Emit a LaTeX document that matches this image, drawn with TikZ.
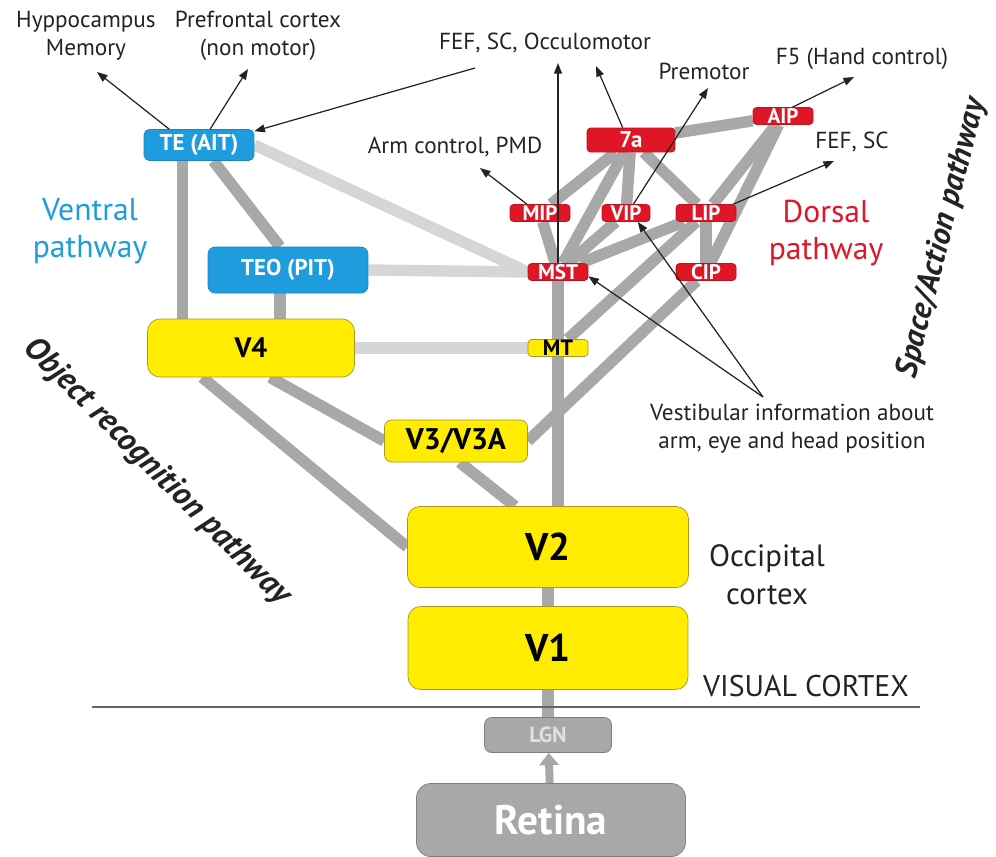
\documentclass[tikz,border=0pt]{standalone}
\usepackage{fontspec}
\setmainfont{PT Sans}
\usetikzlibrary{arrows.meta, backgrounds}

\definecolor{ventblue}{RGB}{30,156,222}
\definecolor{dorsred}{RGB}{222,22,38}
\definecolor{cortyel}{RGB}{255,236,0}
\definecolor{cortedge}{RGB}{168,150,40}
\definecolor{pathgray}{RGB}{168,168,168}
\definecolor{pathlight}{RGB}{214,214,214}
\definecolor{inkgray}{RGB}{35,35,35}

\begin{document}
\begin{tikzpicture}[
    x=0.02cm, y=-0.02cm,
    vbox/.style={rectangle, rounded corners=3pt, fill=ventblue, draw=ventblue!85!black,
                 text=white, inner sep=0pt, font=\fontsize{13}{15}\selectfont\bfseries},
    dbox/.style={rectangle, rounded corners=2pt, fill=dorsred, draw=dorsred!85!black,
                 text=white, inner sep=0pt, minimum width=1.2cm, minimum height=0.34cm,
                 font=\fontsize{12}{12}\selectfont\bfseries},
    ybox/.style={rectangle, rounded corners=7pt, fill=cortyel, draw=cortedge, inner sep=0pt},
    gbox/.style={rectangle, rounded corners=8pt, fill=pathgray, draw=pathgray!75!black,
                 text=white, inner sep=0pt},
    lbl/.style={align=center, text=inkgray, inner sep=1pt, font=\fontsize{13.2}{16}\selectfont},
    pth/.style={text=#1, align=center, inner sep=1pt, font=\fontsize{18}{21}\selectfont},
    tilt/.style={text=inkgray, inner sep=1pt, font=\fontsize{18.5}{20}\selectfont\bfseries\itshape},
    gl/.style={line width=6.5pt, draw=pathgray},
    ll/.style={line width=6.5pt, draw=pathlight},
    arr/.style={-{Triangle[length=6pt, width=4.5pt]}, line width=0.7pt, draw=inkgray}
]
  \useasboundingbox (0,0) rectangle (996,856);

  % ventral stream
  \node[vbox, minimum width=2.2cm, minimum height=0.62cm] (te) at (199,145) {TE (AIT)};
  \node[vbox, minimum width=3.2cm, minimum height=0.92cm, rounded corners=4pt] (teo) at (288,270) {TEO (PIT)};
  \node[ybox, minimum width=4.14cm, minimum height=1.16cm,
        font=\fontsize{16}{18}\selectfont\bfseries] (v4) at (251,348) {V4};
  \node[ybox, minimum width=1.2cm, minimum height=0.34cm, rounded corners=2pt,
        font=\fontsize{12.5}{12.5}\selectfont\bfseries] (mt) at (558,348) {MT};
  \node[ybox, minimum width=2.86cm, minimum height=0.84cm, rounded corners=4pt,
        font=\fontsize{17}{19}\selectfont\bfseries] (v3) at (456,441) {V3/V3A};
  \node[ybox, minimum width=5.62cm, minimum height=1.62cm,
        font=\fontsize{22}{24}\selectfont\bfseries] (v2) at (548,547) {V2};
  \node[ybox, minimum width=5.6cm, minimum height=1.66cm,
        font=\fontsize{22}{24}\selectfont\bfseries] (v1) at (548,648) {V1};
  \node[gbox, minimum width=2.54cm, minimum height=0.7cm, rounded corners=4pt, text=white!88!black,
        font=\fontsize{12.5}{14}\selectfont\bfseries] (lgn) at (548,735) {LGN};
  \node[gbox, minimum width=5.38cm, minimum height=1.46cm,
        font=\fontsize{23.5}{26}\selectfont\bfseries] (ret) at (551,820) {Retina};

  % dorsal stream
  \node[dbox, minimum width=1.76cm, minimum height=0.48cm,
        font=\fontsize{13}{14}\selectfont\bfseries] (sevena) at (631,140) {7a};
  \node[dbox] (aip) at (783,116) {AIP};
  \node[dbox] (mip) at (540,213) {MIP};
  \node[dbox, minimum width=0.96cm] (vip) at (626,213) {VIP};
  \node[dbox] (lip) at (706,213) {LIP};
  \node[dbox] (cip) at (706,272) {CIP};
  \node[dbox] (mst) at (558,272) {MST};

  % texts
  \node[lbl] (hippo)  at (86,36)   {Hyppocampus\\Memory};
  \node[lbl] (pfc)    at (258,36)  {Prefrontal cortex\\(non motor)};
  \node[lbl] (fefoc)  at (545,43)  {FEF, SC, Occulomotor};
  \node[lbl] (premot) at (704,71)  {Premotor};
  \node[lbl] (ffive)  at (862,59)  {F5 (Hand control)};
  \node[lbl] (fefsc)  at (852,142) {FEF, SC};
  \node[lbl] (armpmd) at (455,147) {Arm control, PMD};
  \node[lbl] (vest)   at (792,429) {Vestibular information about\\arm, eye and head position};
  \node[lbl, font=\fontsize{17.5}{21.5}\selectfont] (occ) at (767,575) {Occipital\\cortex};
  \node[lbl, font=\fontsize{17}{18}\selectfont] (viscx) at (806,686) {VISUAL CORTEX};
  \node[pth=ventblue] (ventral) at (90,231) {Ventral\\pathway};
  \node[pth=dorsred]  (dorsal)  at (826,233) {Dorsal\\pathway};
  \node[tilt, rotate=-45] (objrec) at (157,472) {Object recognition pathway};
  \node[tilt, rotate=76, font=\fontsize{18}{20}\selectfont\bfseries\itshape] (spact) at (942,238) {Space/Action pathway};

  \draw[line width=0.8pt, draw=inkgray!70] (92,707) -- (920,707);

  \begin{pgfonlayer}{background}
    \draw[ll] (te.east) -- (mst.west);
    \draw[ll] (teo.east) -- (mst.west);
    \draw[ll] (v4.east) -- (mt.west);
    \draw[gl] (te.224) -- (te.224 |- v4.north);
    \draw[gl] (te.312) -- (teo.109);
    \draw[gl] (teo.251) -- (teo.251 |- v4.north);
    \draw[gl] (v4.211) -- (v2.west);
    \draw[gl] (v4.303) -- (v3.west);
    \draw[gl] (v3.280) -- (v2.129);
    \draw[gl] (v3.east) -- (cip);
    \draw[gl] (mst) -- (mt) -- (mt |- v2.north);
    \draw[gl] (v2) -- (v1) -- (lgn);
    \draw[gl] (mt) -- (lip);
    \foreach \a/\b in {mst/mip, mst/sevena, mst/vip, mst/lip, mip/sevena, sevena/vip,
                       sevena/lip, sevena/aip, aip/lip, aip/cip, lip/cip}
      \draw[gl] (\a) -- (\b);
  \end{pgfonlayer}

  \draw[line width=4.5pt, draw=pathgray, -{Triangle[length=7pt, width=11pt]}] (ret) -- (lgn);

  \coordinate (hippotip) at (97,72);
  \coordinate (pfctip)   at (248,69);
  \coordinate (fefstart) at (475,68);
  \coordinate (msttip)   at (558,63);
  \coordinate (seventip) at (596,66);
  \coordinate (premtip)  at (708,88);
  \coordinate (f5tip)    at (854,77);
  \coordinate (fefsctip) at (834,161);
  \coordinate (armtip)   at (480,168);
  \coordinate (vestpt)   at (763,397);

  \draw[arr] (te.152) -- (hippotip);
  \draw[arr] (te.55) -- (pfctip);
  \draw[arr] (fefstart) -- (te.14);
  \draw[arr] (mst.north) -- (msttip);
  \draw[arr] (sevena.124) -- (seventip);
  \draw[arr] (vip.50) -- (premtip);
  \draw[arr] (aip.43) -- (f5tip);
  \draw[arr] (lip.18) -- (fefsctip);
  \draw[arr] (mip.146) -- (armtip);
  \draw[arr] (vestpt) -- (mst.352);
  \draw[arr] (vestpt) -- (vip.323);
\end{tikzpicture}
\end{document}
